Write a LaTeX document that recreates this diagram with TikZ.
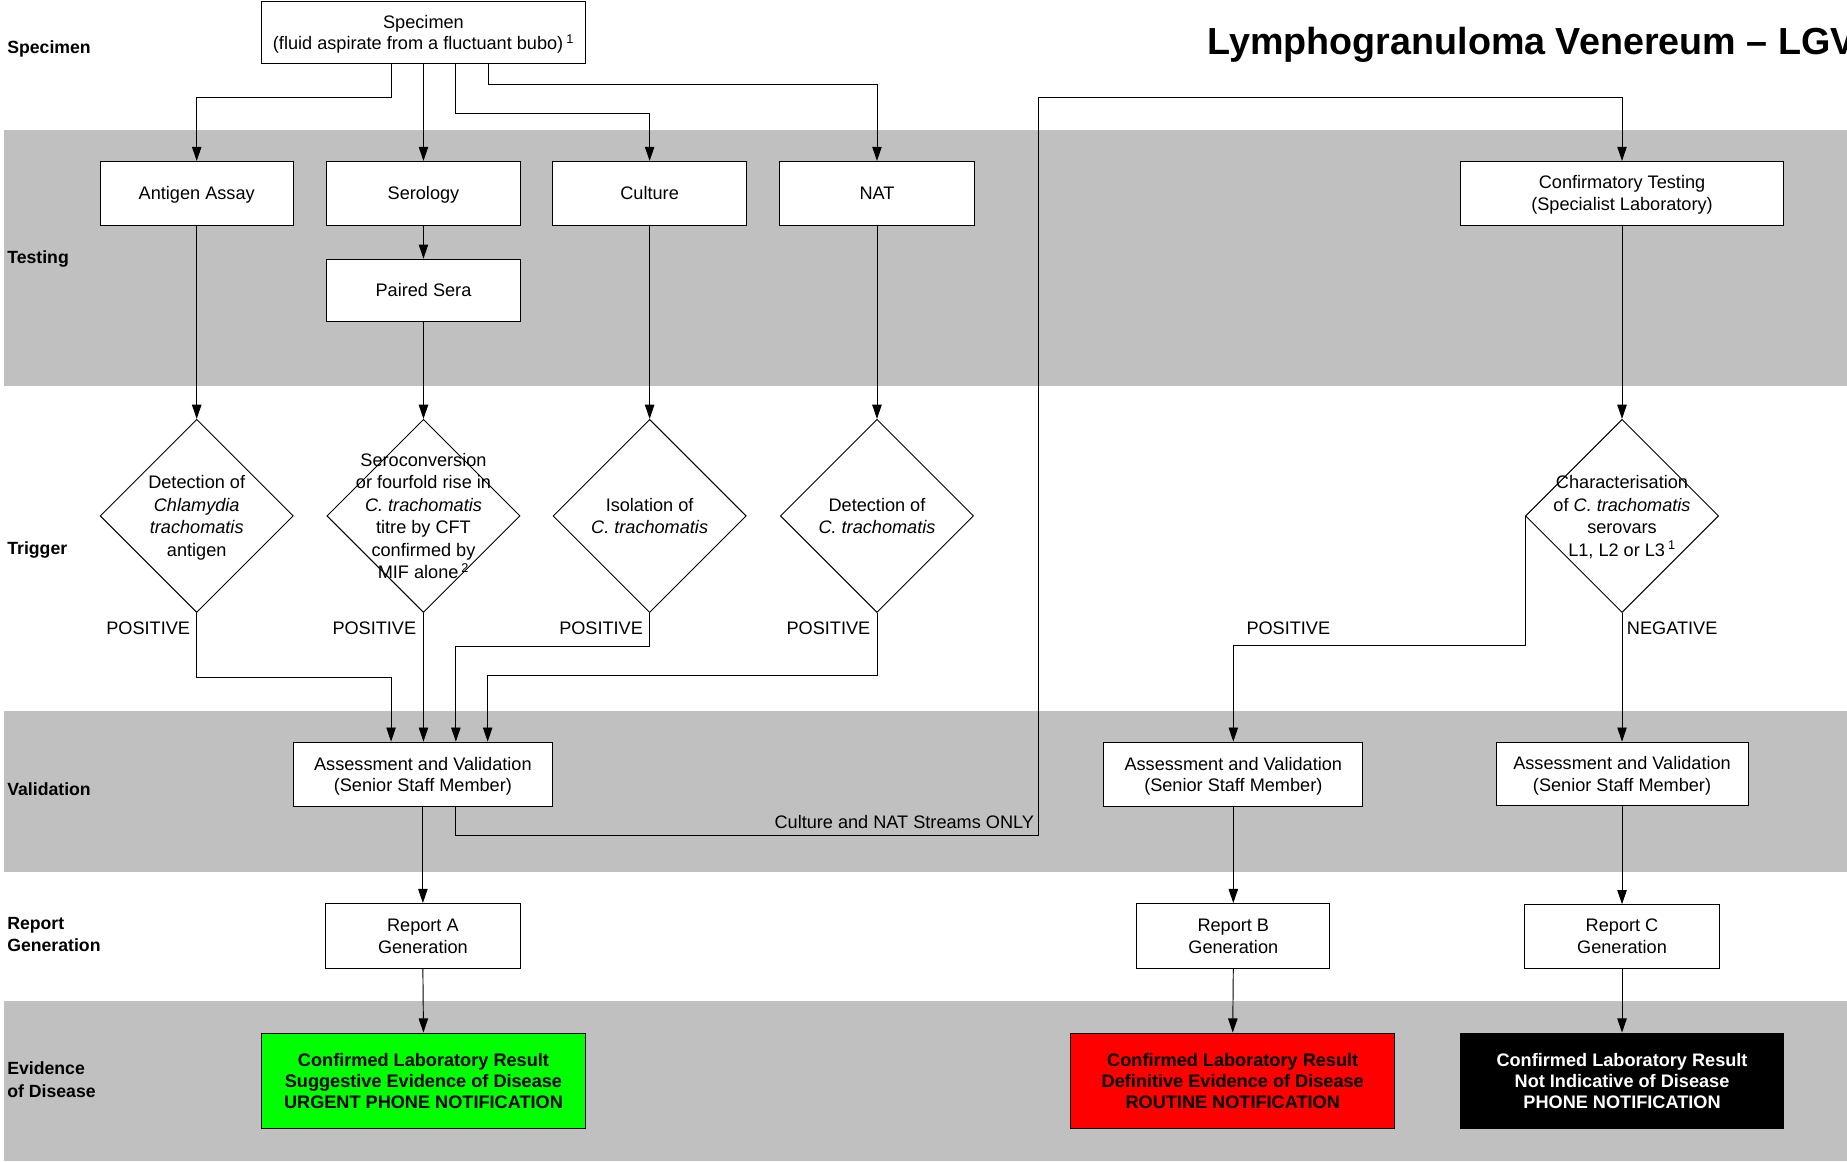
\documentclass[tikz,border=0pt]{standalone}
\usepackage{fontspec}
\setmainfont{Liberation Sans}
\usetikzlibrary{arrows.meta,shapes.geometric}
\definecolor{bandgray}{RGB}{192,192,192}
\definecolor{okgreen}{RGB}{0,255,0}
\definecolor{alertred}{RGB}{255,0,0}

\tikzset{
  base/.style={font=\fontsize{15.4}{18.5}\selectfont},
  box/.style={base, draw=black, fill=white, line width=0.8pt, inner sep=0pt, align=center},
  stdbox/.style={box, text depth=0pt},
  dia/.style={draw=black, fill=white, line width=0.8pt, diamond, inner sep=0pt,
              minimum width=164pt, minimum height=164pt},
  diatext/.style={font=\fontsize{15.4}{19}\selectfont, align=center, inner sep=0pt, text depth=0pt},
  lane/.style={font=\fontsize{15}{19}\selectfont\bfseries, anchor=west, align=left,
               inner sep=0pt, text depth=0pt},
  result/.style={box, font=\fontsize{15.4}{18}\selectfont\bfseries,
                 minimum width=275pt, minimum height=81pt},
  arr/.style={line width=0.8pt, -{Triangle[length=12pt,width=8pt]}},
  tag/.style={font=\fontsize{15.4}{18.5}\selectfont, inner sep=0pt},
}

\begin{document}
\begin{tikzpicture}[x=1pt,y=-1pt]
\useasboundingbox (0,0) rectangle (1568,986);
\fill[white] (0,0) rectangle (1568,986);

% swim-lane bands
\fill[bandgray] (3,110) rectangle (1568,328);
\fill[bandgray] (3,604) rectangle (1568,740);
\fill[bandgray] (3,850) rectangle (1568,986);

% lane titles
\node[lane] (lSpec) at (6,40) {Specimen};
\node[lane] (lTest) at (6,218) {Testing};
\node[lane] (lTrig) at (6,465) {Trigger};
\node[lane] (lVal)  at (6,670) {Validation};
\node[lane] (lRep)  at (6,793.5) {Report\\Generation};
\node[lane] (lEvid) at (6,916.5) {Evidence\\of Disease};

% heading
\node[anchor=base west, inner sep=0pt, font=\fontsize{32}{38}\selectfont\bfseries] (title)
  at (1025,46) {Lymphogranuloma Venereum – LGV};

% specimen and testing
\node[stdbox, minimum width=275pt, minimum height=53pt] (spec) at (359.5,27.5)
  {Specimen\\(fluid aspirate from a fluctuant bubo)\,\textsuperscript{1}};
\node[stdbox, minimum width=164pt, minimum height=54pt] (antigen) at (167,164) {Antigen Assay};
\node[stdbox, minimum width=165pt, minimum height=54pt] (serology) at (359.5,164) {Serology};
\node[stdbox, minimum width=165pt, minimum height=54pt] (culture) at (551.5,164) {Culture};
\node[stdbox, minimum width=165pt, minimum height=54pt] (nat) at (744.5,164) {NAT};
\node[stdbox, minimum width=165pt, minimum height=53pt] (paired) at (359.5,246.5) {Paired Sera};
\node[stdbox, minimum width=274pt, minimum height=54pt] (confirm) at (1377,164)
  {Confirmatory Testing\\(Specialist Laboratory)};

% trigger decisions
\node[dia] (d1) at (167,438) {};
\node[dia] (d2) at (359.5,438) {};
\node[dia] (d3) at (551.5,438) {};
\node[dia] (d4) at (744.5,438) {};
\node[dia] (d5) at (1377,438) {};
\node[diatext] (t1) at (d1.center) {Detection of\\\textit{Chlamydia}\\\textit{trachomatis}\\antigen};
\node[diatext] (t2) at (d2.center) {Seroconversion\\or fourfold rise in\\\textit{C. trachomatis}\\titre by CFT\\confirmed by\\MIF alone\,\textsuperscript{2}};
\node[diatext] (t3) at (d3.center) {Isolation of\\\textit{C. trachomatis}};
\node[diatext] (t4) at (d4.center) {Detection of\\\textit{C. trachomatis}};
\node[diatext] (t5) at (d5.center) {Characterisation\\of \textit{C. trachomatis}\\serovars\\L1, L2 or L3\,\textsuperscript{1}};

% validation
\node[stdbox, minimum width=220pt, minimum height=55pt] (assessA) at (359,657.5)
  {Assessment and Validation\\(Senior Staff Member)};
\node[stdbox, minimum width=220pt, minimum height=55pt] (assessB) at (1047,657.5)
  {Assessment and Validation\\(Senior Staff Member)};
\node[stdbox, minimum width=214pt, minimum height=54pt] (assessC) at (1377,657)
  {Assessment and Validation\\(Senior Staff Member)};

% reports
\node[stdbox, minimum width=165pt, minimum height=55pt] (repA) at (359,794.5) {Report A\\Generation};
\node[stdbox, minimum width=164pt, minimum height=55pt] (repB) at (1047,794.5) {Report B\\Generation};
\node[stdbox, minimum width=165pt, minimum height=54pt] (repC) at (1377,795) {Report C\\Generation};

% outcomes
\node[result, fill=okgreen] (resA) at (359.5,917.5)
  {Confirmed Laboratory Result\\Suggestive Evidence of Disease\\URGENT PHONE NOTIFICATION};
\node[result, fill=alertred] (resB) at (1046.5,917.5)
  {Confirmed Laboratory Result\\Definitive Evidence of Disease\\ROUTINE NOTIFICATION};
\node[result, fill=black, text=white, minimum width=274pt] (resC) at (1377,917.5)
  {Confirmed Laboratory Result\\Not Indicative of Disease\\PHONE NOTIFICATION};

% specimen to tests
\draw[arr] ([xshift=-27.5pt]spec.south) -- ++(0,28) -| (antigen.north);
\draw[arr] (spec.south) -- (serology.north);
\draw[arr] ([xshift=27.5pt]spec.south) -- ++(0,42) -| (culture.north);
\draw[arr] ([xshift=55pt]spec.south) -- ++(0,17) -| (nat.north);

% tests to triggers
\draw[arr] (serology.south) -- (paired.north);
\draw[arr] (antigen.south) -- (d1.north);
\draw[arr] (paired.south) -- (d2.north);
\draw[arr] (culture.south) -- (d3.north);
\draw[arr] (nat.south) -- (d4.north);

% triggers to validation
\draw[arr] (d1.south) -- ++(0,55) -| ([xshift=-27pt]assessA.north);
\draw[arr] (d2.south) -- (d2.south |- assessA.north);
\draw[arr] (d3.south) -- ++(0,28) -| ([xshift=28pt]assessA.north);
\draw[arr] (d4.south) -- ++(0,53) -| ([xshift=55pt]assessA.north);
\node[tag, anchor=east] (p1) at (161.5,533) {POSITIVE};
\node[tag, anchor=east] (p2) at (353.5,533) {POSITIVE};
\node[tag, anchor=east] (p3) at (546,533) {POSITIVE};
\node[tag, anchor=east] (p4) at (739,533) {POSITIVE};

% report path A
\draw[arr] (assessA.south) -- (repA.north);
\draw[arr] (repA.south) -- (resA.north);

% referral to specialist laboratory
\draw[arr] ([xshift=28pt]assessA.south) -- ++(0,24) -- ++(495,0) -- ++(0,-627) -| (confirm.north);
\node[tag, anchor=east] (streams) at (878,698) {Culture and NAT Streams ONLY};

\draw[arr] (confirm.south) -- (d5.north);
\draw[arr] (d5.west) -- ++(0,110) -| (assessB.north);
\draw[arr] (d5.south) -- (assessC.north);
\node[tag, anchor=west] (p5) at (1058,533) {POSITIVE};
\node[tag, anchor=west] (n5) at (1381,533) {NEGATIVE};

% report paths B and C
\draw[arr] (assessB.south) -- (repB.north);
\draw[arr] (repB.south) -- (resB.north);
\draw[arr] (assessC.south) -- (repC.north);
\draw[arr] (repC.south) -- (resC.north);
\end{tikzpicture}
\end{document}
